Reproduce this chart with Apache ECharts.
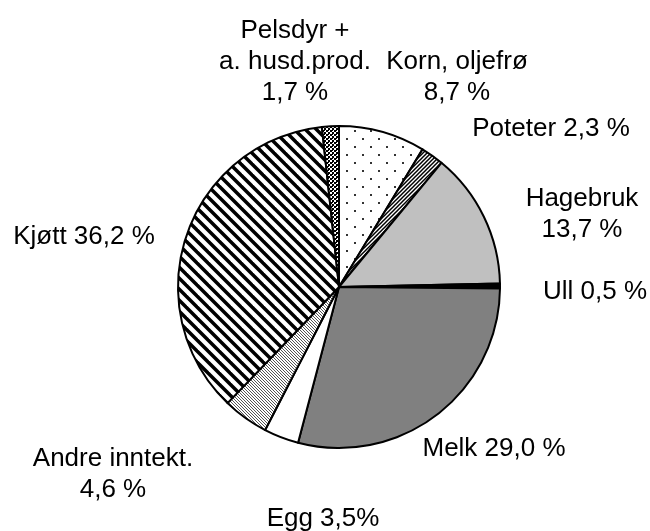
<!DOCTYPE html>
<html>
<head>
<meta charset="utf-8">
<script src="https://cdn.jsdelivr.net/npm/echarts@6/dist/echarts.min.js"></script>
<style>
  html, body { margin: 0; padding: 0; background: #fff; }
  #chart { width: 650px; height: 531px; }
</style>
</head>
<body>
<div id="chart"></div>
<script>
// data, clockwise from 12 o'clock
var names = ['Korn, oljefrø', 'Poteter', 'Hagebruk', 'Ull', 'Melk', 'Egg', 'Andre inntekt.', 'Kjøtt', 'Pelsdyr +\na. husd.prod.']
var values = [8.7, 2.3, 13.7, 0.5, 29.0, 3.5, 4.6, 36.2, 1.7]
var labels = ['Korn, oljefrø\n8,7 %', 'Poteter 2,3 %', 'Hagebruk\n13,7 %', 'Ull 0,5 %', 'Melk 29,0 %', 'Egg 3,5%', 'Andre inntekt.\n4,6 %', 'Kjøtt 36,2 %', 'Pelsdyr +\na. husd.prod.\n1,7 %']

// where each label sits (x, y of its centre)
var labelPos = [[457, 77], [551, 129], [582, 214], [595, 292], [494, 449], [323, 519], [113, 474], [84, 237], [295, 62]]

//tiles for the hatched slices
function tile(size, draw) {
  var c = document.createElement('canvas')
  c.width = size
  c.height = size
  var ctx = c.getContext('2d')
  ctx.fillStyle = '#fff'
  ctx.fillRect(0, 0, size, size)
  draw(ctx, size)
  return { image: c, repeat: 'repeat' }
}
function diag(size, width, color, back) {
  return tile(size, function (ctx, s) {
    ctx.strokeStyle = color
    ctx.lineWidth = width
    ctx.lineCap = 'square'
    for (var k = -1; k <= 1; k++) {
      ctx.beginPath()
      if (back) {
        ctx.moveTo(k * s, 0)
        ctx.lineTo(k * s + s, s)
      } else {
        ctx.moveTo(k * s, s)
        ctx.lineTo(k * s + s, 0)
      }
      ctx.stroke()
    }
  })
}
var dots = tile(16, function (ctx) {
  ctx.fillStyle = '#333'
  ctx.fillRect(2, 2, 2, 2)
  ctx.fillRect(10, 10, 2, 2)
})
var checker = tile(4, function (ctx) {
  ctx.fillStyle = '#000'
  ctx.fillRect(0, 0, 2, 2)
  ctx.fillRect(2, 2, 2, 2)
  ctx.fillRect(0, 2, 1, 1)
})

var fills = [
  dots,
  diag(4, 1.5, '#000', false),
  '#c0c0c0',
  '#000',
  '#808080',
  '#fff',
  diag(3, 1, '#555', true),
  diag(11, 3.5, '#000', true),
  checker
]

var chart = echarts.init(document.getElementById('chart'))
var option = {
  animation: false,
  backgroundColor: '#fff',
  series: [{
    type: 'pie',
    center: [339, 287],
    radius: 161,
    startAngle: 90,
    clockwise: true,
    silent: true,
    label: {
      show: true,
      position: 'outside',
      color: '#000',
      fontFamily: 'Liberation Sans, Arial, sans-serif',
      fontSize: 26,
      lineHeight: 31,
      align: 'center',
      overflow: 'none',
      formatter: function (p) { return labels[p.dataIndex] }
    },
    labelLine: { show: false },
    labelLayout: function (p) {
      var pos = labelPos[p.dataIndex]
      return { x: pos[0], y: pos[1], align: 'center', verticalAlign: 'middle', hideOverlap: false }
    },
    itemStyle: { borderColor: '#000', borderWidth: 2 },
    data: values.map(function (v, i) {
      return { name: names[i], value: v, itemStyle: { color: fills[i] } }
    })
  }]
}
chart.setOption(option)
</script>
</body>
</html>
